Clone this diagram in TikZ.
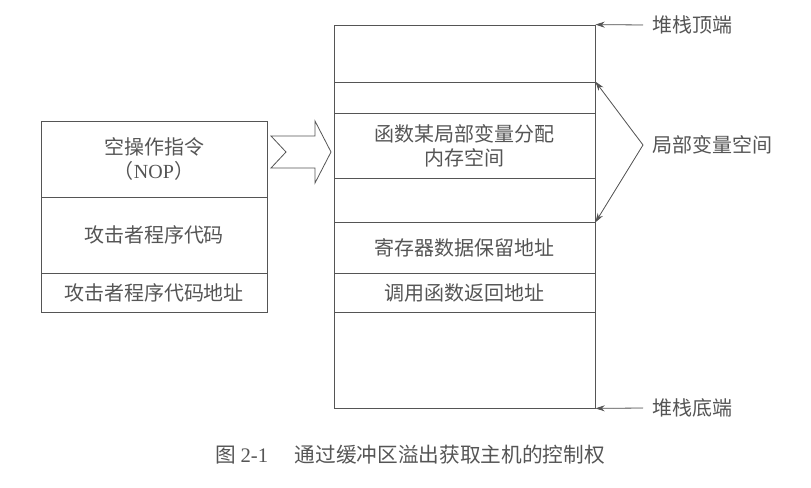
\documentclass[tikz,border=0pt]{standalone}
\usepackage{fontspec}
\setmainfont{Liberation Serif}
\newfontfamily\cjk{Noto Sans CJK SC}
\usepackage{tikz}
\usetikzlibrary{arrows.meta}
\definecolor{ink}{RGB}{85,85,85}
\tikzset{cell/.style={rectangle,draw=ink,text=ink,line width=0.6pt,inner sep=0pt,align=center,font=\cjk\fontsize{15}{18}\selectfont}}
\tikzset{lcell/.style={cell,minimum width=169.5pt}}
\tikzset{rcell/.style={cell,minimum width=195.75pt}}
\tikzset{lbl/.style={text=ink,inner xsep=6.75pt,inner ysep=0pt,anchor=west,font=\cjk\fontsize{15}{18}\selectfont}}

\begin{document}
\begin{tikzpicture}[>={Stealth[length=7pt,width=4.5pt]},x=0.75pt,y=-0.75pt]
        \useasboundingbox (0,0) rectangle (811,488);

        % attacker payload
        \node[lcell,minimum height=57pt] (nop) at (154,159) {空操作指令\\（{\rmfamily NOP}）};
        \node[lcell,minimum height=57pt] (code) at (154,235) {攻击者程序代码};
        \node[lcell,minimum height=29.25pt] (addr) at (154,292.5) {攻击者程序代码地址};

        % stack
        \node[rcell,minimum height=42.75pt] (s1) at (464.5,53.5) {};
        \node[rcell,minimum height=23.25pt] (s2) at (464.5,97.5) {};
        \node[rcell,minimum height=48.75pt] (s3) at (464.5,145.5) {函数某局部变量分配\\内存空间};
        \node[rcell,minimum height=33pt] (s4) at (464.5,200) {};
        \node[rcell,minimum height=38.25pt] (s5) at (464.5,247.5) {寄存器数据保留地址};
        \node[rcell,minimum height=29.25pt] (s6) at (464.5,292.5) {调用函数返回地址};
        \node[rcell,minimum height=72pt] (s7) at (464.5,360) {};

        \draw[draw=ink,line width=0.6pt,fill=white] (271,136) -- (315,136) -- (315,121) -- (331,152)
            -- (315,183) -- (315,168) -- (271,168) -- (286,152) -- cycle;

        \node[lbl] (top) at (643,25) {堆栈顶端};
        \node[lbl] (loc) at (643,145) {局部变量空间};
        \node[lbl] (bot) at (643,408) {堆栈底端};

        \draw [->,draw=ink,fill=ink,line width=0.6pt] (top.west) -- (s1.north east);
        \draw [->,draw=ink,fill=ink,line width=0.6pt] (loc.west) -- (s2.north east);
        \draw [->,draw=ink,fill=ink,line width=0.6pt] (loc.west) -- (s4.south east);
        \draw [->,draw=ink,fill=ink,line width=0.6pt] (bot.west) -- (s7.south east);

        \node[text=ink,inner sep=0pt,font=\cjk\fontsize{15.5}{18}\selectfont] (cap) at (410,455)
            {图 {\rmfamily 2-1}\hspace{20pt}通过缓冲区溢出获取主机的控制权};
    \end{tikzpicture}
\end{document}
